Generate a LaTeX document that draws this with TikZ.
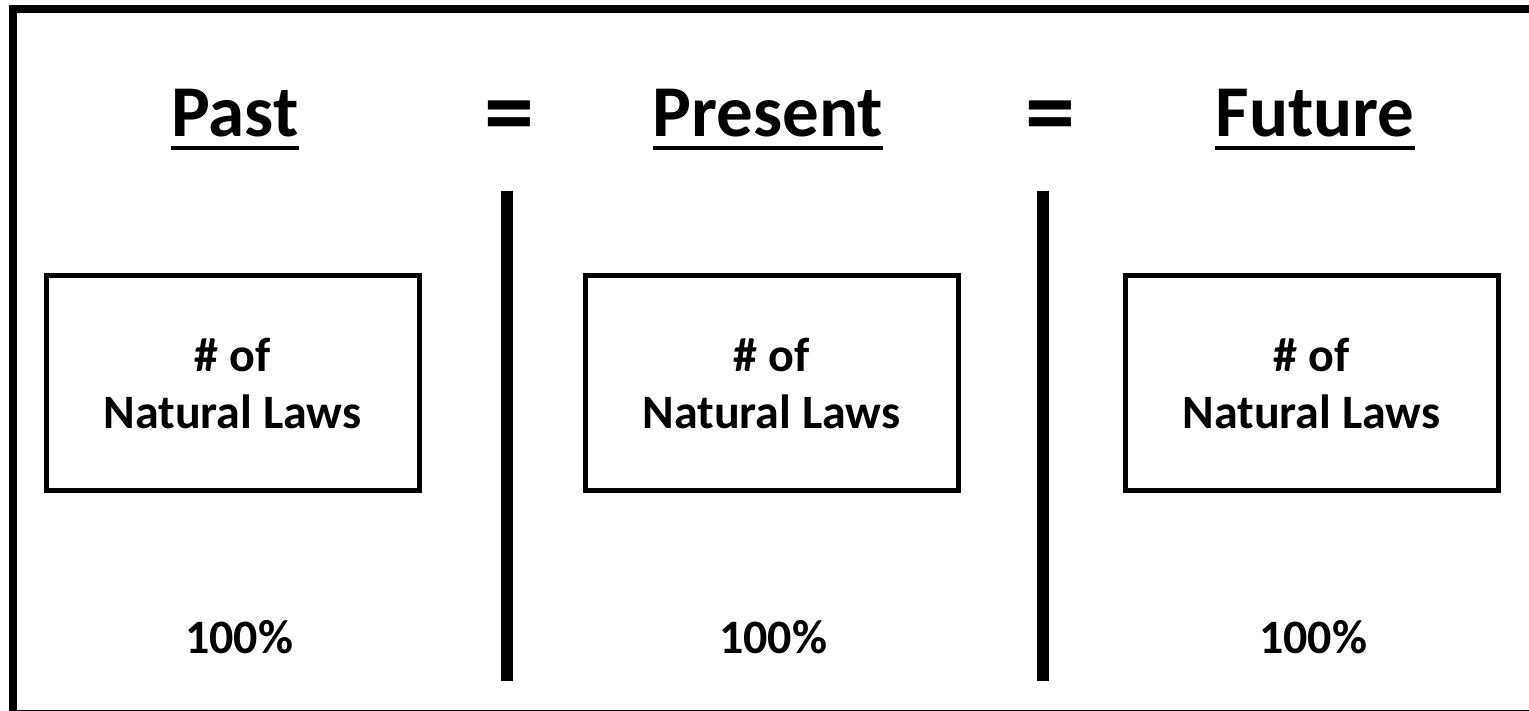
\documentclass[tikz,border=0pt]{standalone}
\usepackage{fontspec}
\setmainfont{Carlito}
\begin{document}
\begin{tikzpicture}[x=1pt,y=-1pt,
  title/.style={font=\bfseries\fontsize{73}{88}\selectfont, inner sep=0pt, anchor=base},
  eqsign/.style={font=\bfseries\fontsize{100}{120}\selectfont, inner sep=0pt, anchor=base},
  lawbox/.style={draw, line width=5pt, minimum width=373pt, minimum height=214pt, align=center, font=\bfseries\fontsize{48}{57}\selectfont},
  pct/.style={font=\bfseries\fontsize{48}{57}\selectfont, inner sep=0pt, anchor=base},
  bar/.style={line width=12pt},
  uline/.style={line width=4pt}]
\useasboundingbox (0,0) rectangle (1529,711);
\begin{scope}
  \clip (0,0) rectangle (1529,711);
  \draw[line width=8pt] (12.5,9) rectangle (1545,714);
\end{scope}
% titles
\node[title] (past) at (235,137) {Past};
\node[eqsign] (eq1) at (509,146) {=};
\node[title] (pres) at (768,137) {Present};
\node[eqsign] (eq2) at (1050,146) {=};
\node[title] (fut) at (1315,137) {Future};
\foreach \n in {past,pres,fut}{
  \draw[uline] ([yshift=-11pt]\n.base west) -- ([yshift=-11pt]\n.base east);
}
% bars
\coordinate (t1) at (507,191);
\coordinate (u1) at (507,681);
\coordinate (t2) at (1043,191);
\coordinate (u2) at (1043,681);
\draw[bar] (t1) -- (u1);
\draw[bar] (t2) -- (u2);
% boxes
\node[lawbox] (b1) at (232.5,383) {\# of\\Natural Laws};
\node[lawbox] (b2) at (771.5,383) {\# of\\Natural Laws};
\node[lawbox] (b3) at (1311.5,383) {\# of\\Natural Laws};
% percentages
\node[pct] (p1) at (239,653) {100\%};
\node[pct] (p2) at (773,653) {100\%};
\node[pct] (p3) at (1313,653) {100\%};
\end{tikzpicture}
\end{document}
